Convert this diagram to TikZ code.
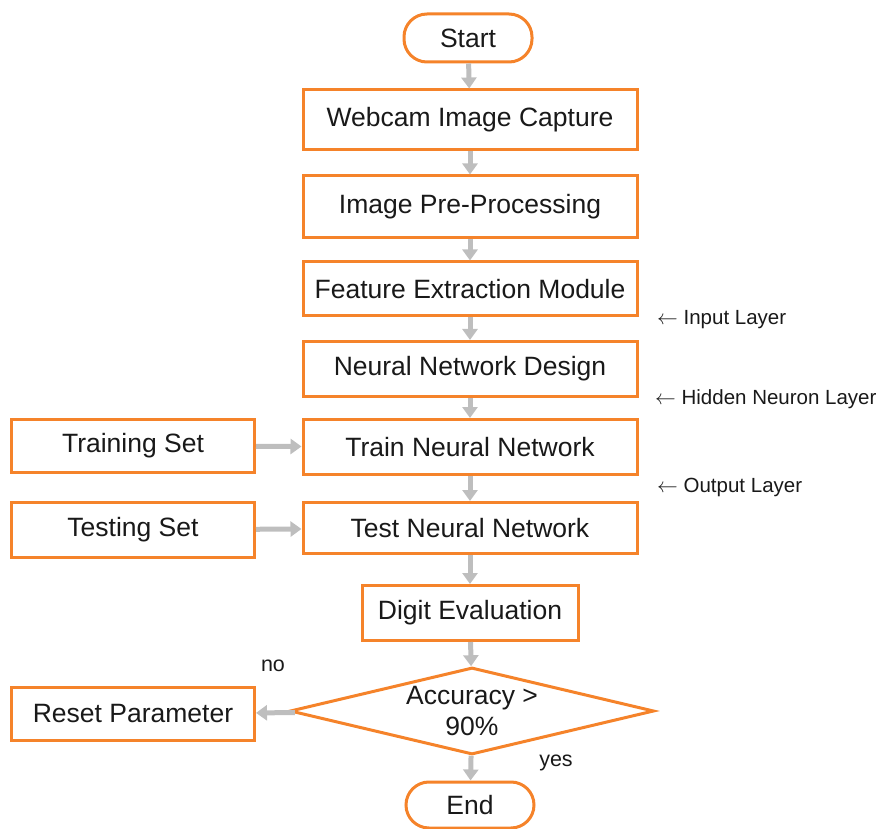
\documentclass[tikz,border=0pt]{standalone}
\usepackage{fontspec}
\setmainfont{Liberation Sans}
\usetikzlibrary{shapes.geometric,arrows.meta}
\definecolor{orng}{RGB}{245,131,42}
\definecolor{arr}{RGB}{190,190,190}
\definecolor{txt}{RGB}{25,25,25}
\begin{document}
\begin{tikzpicture}[x=1pt,y=-1pt,
  box/.style={draw=orng,line width=3pt,fill=white,text=txt,font=\fontsize{26.5}{30}\selectfont,inner sep=0pt,minimum height=#1},
  box/.default=55pt,
  term/.style={draw=orng,line width=3pt,rounded corners=23pt,text=txt,font=\fontsize{26.5}{30}\selectfont,minimum width=128pt,minimum height=48pt,inner sep=0pt},
  dec/.style={diamond,aspect=4.18,draw=orng,line width=3pt,text=txt,font=\fontsize{26.5}{30}\selectfont,minimum width=364pt,minimum height=87pt,inner sep=0pt,align=center},
  flow/.style={draw=arr,line width=5pt,-{Triangle[length=11pt,width=15pt]}},
  side/.style={text=txt,font=\fontsize{20.5}{24}\selectfont,anchor=west,inner sep=0pt},
  lbl/.style={text=txt,font=\fontsize{21.5}{25}\selectfont,inner sep=0pt}]
\useasboundingbox (0,0) rectangle (887,829);
\node[term] (start) at (468,38) {Start};
\node[box=60pt,minimum width=334pt] (cap) at (470,120) {Webcam Image Capture};
\node[box=62pt,minimum width=334pt] (pre) at (470,207) {Image Pre-Processing};
\node[box=54pt,minimum width=334pt] (feat) at (470,289) {Feature Extraction Module};
\node[box=55pt,minimum width=334pt] (nnd) at (470,369) {Neural Network Design};
\node[box=55pt,minimum width=334pt] (train) at (470,447) {Train Neural Network};
\node[box=51pt,minimum width=334pt] (test) at (470,528) {Test Neural Network};
\node[box=53pt,minimum width=243pt] (trs) at (133,446) {Training Set};
\node[box=55pt,minimum width=243pt] (tes) at (133,530) {Testing Set};
\node[box=55pt,minimum width=216pt] (eval) at (470,613) {Digit Evaluation};
\node[dec] (acc) at (472,711) {Accuracy >\\[1pt]90\%};
\node[box=53pt,minimum width=243pt] (reset) at (133,714) {Reset Parameter};
\node[term,minimum height=46pt] (end) at (470,805) {End};
\node[side] (l1) at (657,320) {$\leftarrow$ Input Layer};
\node[side] (l2) at (655,399) {$\leftarrow$ Hidden Neuron Layer};
\node[side] (l3) at (657,487) {$\leftarrow$ Output Layer};
\node[lbl] (no) at (273,666) {no};
\node[lbl] (yes) at (556,763) {yes};
\draw[flow] (start) -- (cap);
\draw[flow] (cap) -- (pre);
\draw[flow] (pre) -- (feat);
\draw[flow] (feat) -- (nnd);
\draw[flow] (nnd) -- (train);
\draw[flow] (train) -- (test);
\draw[flow] (test) -- (eval);
\draw[flow] (eval) -- (acc);
\draw[flow] (acc) -- (end);
\draw[flow] (trs) -- (train);
\draw[flow] (tes) -- (test);
\draw[flow] (acc) -- (reset);
\end{tikzpicture}
\end{document}
